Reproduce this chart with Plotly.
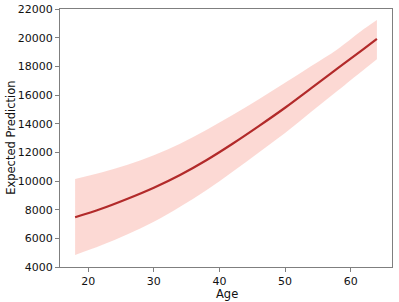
import plotly.graph_objects as go

ages = [18, 22, 26, 30, 34, 38, 42, 46, 50, 54, 58, 62, 64]
prediction = [7470, 8060, 8760, 9530, 10420, 11450, 12600, 13830, 15110, 16480, 17850, 19220, 19908]
upper = [10140, 10600, 11140, 11790, 12600, 13560, 14600, 15700, 16850, 18020, 19200, 20600, 21240]
lower = [4840, 5510, 6280, 7150, 8200, 9350, 10650, 11990, 13350, 14830, 16300, 17770, 18500]

x_ticks = [20, 30, 40, 50, 60]
y_ticks = [4000, 6000, 8000, 10000, 12000, 14000, 16000, 18000, 20000, 22000]
y_tick_labels = [str(v) for v in y_ticks]

fig = go.Figure()
fig.add_trace(go.Scatter(
    x=ages, y=lower, mode="lines",
    line=dict(width=0, shape="spline", color="rgba(0,0,0,0)"), hoverinfo="skip", showlegend=False))
fig.add_trace(go.Scatter(
    x=ages, y=upper, mode="lines", fill="tonexty", fillcolor="rgba(249,185,177,0.55)",
    line=dict(width=0, shape="spline", color="rgba(0,0,0,0)"), hoverinfo="skip", showlegend=False))
fig.add_trace(go.Scatter(
    x=ages, y=prediction, mode="lines",
    line=dict(color="#B22A2A", width=2.2, shape="spline"), showlegend=False))

axis_common = dict(
    showline=True, linecolor="#7f7f7f", linewidth=1, mirror=True,
    ticks="outside", ticklen=4, tickcolor="#7f7f7f", tickwidth=1,
    showgrid=False, zeroline=False, automargin=False,
    tickfont=dict(family="DejaVu Sans", size=11, color="#111"),
)

fig.update_layout(
    width=399, height=302,
    margin=dict(l=60, r=7, t=9, b=35, autoexpand=False),
    paper_bgcolor="white", plot_bgcolor="white",
    xaxis=dict(range=[15.7, 66.3], tickvals=x_ticks, **axis_common),
    yaxis=dict(range=[4000, 22000], tickvals=y_ticks, ticktext=y_tick_labels, **axis_common),
    annotations=[
        dict(text="Age", xref="paper", yref="paper", x=0.503, y=-0.104, xanchor="center", yanchor="middle",
             showarrow=False, font=dict(family="DejaVu Sans", size=11.5, color="#111")),
        dict(text="Expected Prediction", xref="paper", yref="paper", x=-0.148, y=0.5, xanchor="center",
             yanchor="middle", textangle=-90, showarrow=False,
             font=dict(family="DejaVu Sans", size=11.5, color="#111")),
    ],
)

fig.write_html("out.html", config={"displayModeBar": False},
               post_script="document.body.style.margin='0';document.body.style.overflow='hidden';")
